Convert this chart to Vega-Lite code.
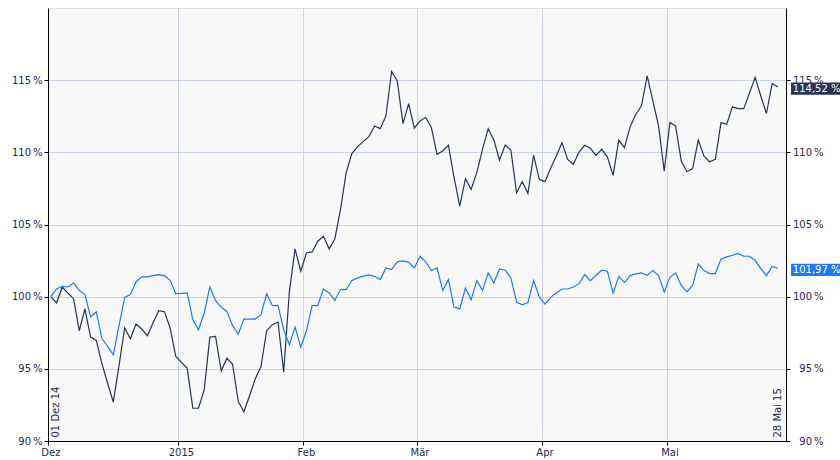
{
  "$schema": "https://vega.github.io/schema/vega-lite/v6.json",
  "width": 738,
  "height": 433,
  "autosize": {"type": "none"},
  "padding": {"left": 48, "top": 8, "right": 54, "bottom": 19},
  "background": "white",
  "config": {
    "view": {"fill": "#f8f8f8", "stroke": "#e2e2e2"},
    "font": "DejaVu Sans",
    "axis": {"labelFont": "DejaVu Sans", "labelFontSize": 10, "labelColor": "#1d2951", "domainColor": "#000000", "tickColor": "#000000", "gridColor": "#c9d4e6", "tickSize": 4}
  },
  "datasets": {
    "kurs": [
      {"date": "2014-12-01", "serie_1": 100.00, "serie_2": 100.00},
      {"date": "2014-12-02", "serie_1": 99.56, "serie_2": 100.53},
      {"date": "2014-12-03", "serie_1": 100.67, "serie_2": 100.72},
      {"date": "2014-12-04", "serie_1": 100.25, "serie_2": 100.67},
      {"date": "2014-12-05", "serie_1": 99.86, "serie_2": 100.95},
      {"date": "2014-12-08", "serie_1": 97.64, "serie_2": 100.44},
      {"date": "2014-12-09", "serie_1": 99.15, "serie_2": 100.14},
      {"date": "2014-12-10", "serie_1": 97.20, "serie_2": 98.59},
      {"date": "2014-12-11", "serie_1": 96.97, "serie_2": 98.94},
      {"date": "2014-12-12", "serie_1": 95.35, "serie_2": 97.10},
      {"date": "2014-12-15", "serie_1": 94.00, "serie_2": 96.55},
      {"date": "2014-12-16", "serie_1": 92.69, "serie_2": 95.97},
      {"date": "2014-12-17", "serie_1": 95.20, "serie_2": 97.98},
      {"date": "2014-12-18", "serie_1": 97.83, "serie_2": 99.95},
      {"date": "2014-12-19", "serie_1": 97.08, "serie_2": 100.14},
      {"date": "2014-12-22", "serie_1": 98.10, "serie_2": 101.02},
      {"date": "2014-12-23", "serie_1": 97.76, "serie_2": 101.37},
      {"date": "2014-12-24", "serie_1": 97.29, "serie_2": 101.37},
      {"date": "2014-12-25", "serie_1": 98.20, "serie_2": 101.46},
      {"date": "2014-12-26", "serie_1": 99.03, "serie_2": 101.53},
      {"date": "2014-12-29", "serie_1": 98.96, "serie_2": 101.46},
      {"date": "2014-12-30", "serie_1": 97.83, "serie_2": 101.13},
      {"date": "2014-12-31", "serie_1": 95.86, "serie_2": 100.21},
      {"date": "2015-01-01", "serie_1": 95.45, "serie_2": 100.23},
      {"date": "2015-01-02", "serie_1": 95.05, "serie_2": 100.26},
      {"date": "2015-01-05", "serie_1": 92.27, "serie_2": 98.40},
      {"date": "2015-01-06", "serie_1": 92.27, "serie_2": 97.71},
      {"date": "2015-01-07", "serie_1": 93.54, "serie_2": 98.87},
      {"date": "2015-01-08", "serie_1": 97.20, "serie_2": 100.67},
      {"date": "2015-01-09", "serie_1": 97.24, "serie_2": 99.72},
      {"date": "2015-01-12", "serie_1": 94.86, "serie_2": 99.26},
      {"date": "2015-01-13", "serie_1": 95.74, "serie_2": 98.98},
      {"date": "2015-01-14", "serie_1": 95.32, "serie_2": 97.99},
      {"date": "2015-01-15", "serie_1": 92.73, "serie_2": 97.41},
      {"date": "2015-01-16", "serie_1": 92.03, "serie_2": 98.45},
      {"date": "2015-01-19", "serie_1": 93.15, "serie_2": 98.45},
      {"date": "2015-01-20", "serie_1": 94.31, "serie_2": 98.45},
      {"date": "2015-01-21", "serie_1": 95.16, "serie_2": 98.75},
      {"date": "2015-01-22", "serie_1": 97.64, "serie_2": 100.21},
      {"date": "2015-01-23", "serie_1": 98.06, "serie_2": 99.38},
      {"date": "2015-01-26", "serie_1": 98.24, "serie_2": 99.40},
      {"date": "2015-01-27", "serie_1": 94.77, "serie_2": 97.71},
      {"date": "2015-01-28", "serie_1": 100.37, "serie_2": 96.67},
      {"date": "2015-01-29", "serie_1": 103.31, "serie_2": 97.90},
      {"date": "2015-01-30", "serie_1": 101.76, "serie_2": 96.51},
      {"date": "2015-02-02", "serie_1": 103.03, "serie_2": 97.62},
      {"date": "2015-02-03", "serie_1": 103.10, "serie_2": 99.38},
      {"date": "2015-02-04", "serie_1": 103.84, "serie_2": 99.38},
      {"date": "2015-02-05", "serie_1": 104.19, "serie_2": 100.53},
      {"date": "2015-02-06", "serie_1": 103.31, "serie_2": 100.26},
      {"date": "2015-02-09", "serie_1": 104.00, "serie_2": 99.74},
      {"date": "2015-02-10", "serie_1": 106.04, "serie_2": 100.49},
      {"date": "2015-02-11", "serie_1": 108.59, "serie_2": 100.49},
      {"date": "2015-02-12", "serie_1": 109.91, "serie_2": 101.13},
      {"date": "2015-02-13", "serie_1": 110.40, "serie_2": 101.30},
      {"date": "2015-02-16", "serie_1": 110.74, "serie_2": 101.41},
      {"date": "2015-02-17", "serie_1": 111.09, "serie_2": 101.51},
      {"date": "2015-02-18", "serie_1": 111.83, "serie_2": 101.41},
      {"date": "2015-02-19", "serie_1": 111.64, "serie_2": 101.18},
      {"date": "2015-02-20", "serie_1": 112.52, "serie_2": 101.99},
      {"date": "2015-02-23", "serie_1": 115.60, "serie_2": 101.88},
      {"date": "2015-02-24", "serie_1": 114.95, "serie_2": 102.41},
      {"date": "2015-02-25", "serie_1": 111.99, "serie_2": 102.48},
      {"date": "2015-02-26", "serie_1": 113.38, "serie_2": 102.38},
      {"date": "2015-02-27", "serie_1": 111.67, "serie_2": 101.99},
      {"date": "2015-03-02", "serie_1": 112.17, "serie_2": 102.80},
      {"date": "2015-03-03", "serie_1": 112.41, "serie_2": 102.41},
      {"date": "2015-03-04", "serie_1": 111.72, "serie_2": 101.81},
      {"date": "2015-03-05", "serie_1": 109.86, "serie_2": 101.99},
      {"date": "2015-03-06", "serie_1": 110.09, "serie_2": 100.42},
      {"date": "2015-03-09", "serie_1": 110.49, "serie_2": 101.18},
      {"date": "2015-03-10", "serie_1": 108.24, "serie_2": 99.28},
      {"date": "2015-03-11", "serie_1": 106.27, "serie_2": 99.15},
      {"date": "2015-03-12", "serie_1": 108.17, "serie_2": 100.60},
      {"date": "2015-03-13", "serie_1": 107.43, "serie_2": 99.79},
      {"date": "2015-03-16", "serie_1": 108.59, "serie_2": 101.11},
      {"date": "2015-03-17", "serie_1": 110.21, "serie_2": 100.44},
      {"date": "2015-03-18", "serie_1": 111.64, "serie_2": 101.65},
      {"date": "2015-03-19", "serie_1": 110.85, "serie_2": 100.95},
      {"date": "2015-03-20", "serie_1": 109.47, "serie_2": 101.92},
      {"date": "2015-03-23", "serie_1": 110.51, "serie_2": 101.83},
      {"date": "2015-03-24", "serie_1": 110.16, "serie_2": 101.30},
      {"date": "2015-03-25", "serie_1": 107.20, "serie_2": 99.63},
      {"date": "2015-03-26", "serie_1": 107.97, "serie_2": 99.44},
      {"date": "2015-03-27", "serie_1": 107.15, "serie_2": 99.60},
      {"date": "2015-03-30", "serie_1": 109.81, "serie_2": 101.11},
      {"date": "2015-03-31", "serie_1": 108.13, "serie_2": 99.98},
      {"date": "2015-04-01", "serie_1": 107.97, "serie_2": 99.49},
      {"date": "2015-04-02", "serie_1": 108.89, "serie_2": 99.95},
      {"date": "2015-04-03", "serie_1": 109.74, "serie_2": 100.26},
      {"date": "2015-04-06", "serie_1": 110.67, "serie_2": 100.53},
      {"date": "2015-04-07", "serie_1": 109.51, "serie_2": 100.53},
      {"date": "2015-04-08", "serie_1": 109.17, "serie_2": 100.67},
      {"date": "2015-04-09", "serie_1": 110.02, "serie_2": 100.90},
      {"date": "2015-04-10", "serie_1": 110.49, "serie_2": 101.53},
      {"date": "2015-04-13", "serie_1": 110.28, "serie_2": 101.11},
      {"date": "2015-04-14", "serie_1": 109.79, "serie_2": 101.48},
      {"date": "2015-04-15", "serie_1": 110.21, "serie_2": 101.83},
      {"date": "2015-04-16", "serie_1": 109.67, "serie_2": 101.76},
      {"date": "2015-04-17", "serie_1": 108.40, "serie_2": 100.24},
      {"date": "2015-04-20", "serie_1": 110.85, "serie_2": 101.41},
      {"date": "2015-04-21", "serie_1": 110.33, "serie_2": 100.99},
      {"date": "2015-04-22", "serie_1": 111.78, "serie_2": 101.46},
      {"date": "2015-04-23", "serie_1": 112.64, "serie_2": 101.58},
      {"date": "2015-04-24", "serie_1": 113.22, "serie_2": 101.65},
      {"date": "2015-04-27", "serie_1": 115.30, "serie_2": 101.46},
      {"date": "2015-04-28", "serie_1": 113.56, "serie_2": 101.83},
      {"date": "2015-04-29", "serie_1": 111.83, "serie_2": 101.46},
      {"date": "2015-04-30", "serie_1": 108.70, "serie_2": 100.33},
      {"date": "2015-05-01", "serie_1": 112.06, "serie_2": 101.34},
      {"date": "2015-05-04", "serie_1": 111.83, "serie_2": 101.65},
      {"date": "2015-05-05", "serie_1": 109.40, "serie_2": 100.78},
      {"date": "2015-05-06", "serie_1": 108.66, "serie_2": 100.33},
      {"date": "2015-05-07", "serie_1": 108.87, "serie_2": 100.78},
      {"date": "2015-05-08", "serie_1": 110.85, "serie_2": 102.27},
      {"date": "2015-05-11", "serie_1": 109.74, "serie_2": 101.81},
      {"date": "2015-05-12", "serie_1": 109.35, "serie_2": 101.60},
      {"date": "2015-05-13", "serie_1": 109.51, "serie_2": 101.60},
      {"date": "2015-05-14", "serie_1": 112.06, "serie_2": 102.62},
      {"date": "2015-05-15", "serie_1": 111.94, "serie_2": 102.76},
      {"date": "2015-05-18", "serie_1": 113.15, "serie_2": 102.87},
      {"date": "2015-05-19", "serie_1": 113.03, "serie_2": 102.99},
      {"date": "2015-05-20", "serie_1": 113.03, "serie_2": 102.80},
      {"date": "2015-05-21", "serie_1": 114.10, "serie_2": 102.80},
      {"date": "2015-05-22", "serie_1": 115.19, "serie_2": 102.52},
      {"date": "2015-05-25", "serie_1": 113.90, "serie_2": 101.95},
      {"date": "2015-05-26", "serie_1": 112.69, "serie_2": 101.46},
      {"date": "2015-05-27", "serie_1": 114.77, "serie_2": 102.10},
      {"date": "2015-05-28", "serie_1": 114.52, "serie_2": 101.97}
    ],
    "ende": [
      {"date": "2015-05-28", "serie": "serie_1", "wert": 114.52, "label": "114,52 %"},
      {"date": "2015-05-28", "serie": "serie_2", "wert": 101.97, "label": "101,97 %"}
    ]
  },
  "layer": [
    {
      "data": {"name": "kurs"},
      "transform": [{"fold": ["serie_1", "serie_2"], "as": ["serie", "wert"]}],
      "mark": {"type": "line", "strokeWidth": 1.2, "interpolate": "linear"},
      "encoding": {
        "x": {
          "field": "date", "type": "ordinal", "bandPosition": 0.5,
          "scale": {"type": "band", "paddingInner": 0, "paddingOuter": 0.47, "align": 0},
          "axis": {
            "orient": "bottom", "title": null, "bandPosition": 0, "labelAngle": 0,
            "values": ["2014-12-01", "2015-01-01", "2015-02-02", "2015-03-02", "2015-04-01", "2015-05-01"],
            "labelExpr": "substring(datum.value, 5, 7) == '01' ? substring(datum.value, 0, 4) : ['Jan','Feb','Mär','Apr','Mai','Jun','Jul','Aug','Sep','Okt','Nov','Dez'][toNumber(substring(datum.value, 5, 7)) - 1]",
            "grid": true, "labelPadding": 2, "labelOverlap": false
          }
        },
        "y": {
          "field": "wert", "type": "quantitative",
          "scale": {"domain": [90, 120], "nice": false, "zero": false},
          "axis": {
            "orient": "left", "title": null, "values": [90, 95, 100, 105, 110, 115],
            "labelExpr": "datum.value + '\u2009%'", "grid": true, "labelPadding": 2, "labelFlush": false
          }
        },
        "color": {
          "field": "serie", "type": "nominal",
          "scale": {"domain": ["serie_1", "serie_2"], "range": ["#263457", "#1e7af2"]},
          "legend": null
        }
      }
    },
    {
      "data": {"name": "ende"},
      "mark": {"type": "point", "shape": "M-1,-0.25L1,-0.25L1,0.25L-1,0.25Z", "size": 2401, "filled": true, "opacity": 1, "strokeWidth": 0, "xOffset": 37.7, "yOffset": 1.6},
      "encoding": {
        "x": {
          "field": "date", "type": "ordinal", "bandPosition": 0.5,
          "scale": {"type": "band", "paddingInner": 0, "paddingOuter": 0.47, "align": 0},
          "axis": {
            "orient": "bottom", "title": null, "bandPosition": 0, "labelAngle": 0,
            "values": ["2014-12-01", "2015-01-01", "2015-02-02", "2015-03-02", "2015-04-01", "2015-05-01"],
            "labelExpr": "substring(datum.value, 5, 7) == '01' ? substring(datum.value, 0, 4) : ['Jan','Feb','Mär','Apr','Mai','Jun','Jul','Aug','Sep','Okt','Nov','Dez'][toNumber(substring(datum.value, 5, 7)) - 1]",
            "grid": true, "labelPadding": 2, "labelOverlap": false
          }
        },
        "y": {
          "field": "wert", "type": "quantitative",
          "scale": {"domain": [90, 120], "nice": false, "zero": false},
          "axis": {
            "orient": "right", "title": null, "values": [90, 95, 100, 105, 110, 115],
            "labelExpr": "datum.value + '\u2009%'", "grid": false, "labelAlign": "right", "labelPadding": 33, "labelFlush": false
          }
        },
        "color": {"field": "serie", "type": "nominal", "scale": {"domain": ["serie_1", "serie_2"], "range": ["#263457", "#1e7af2"]}, "legend": null}
      }
    },
    {
      "data": {"name": "ende"},
      "mark": {"type": "text", "align": "left", "baseline": "middle", "color": "#ffffff", "fontSize": 10, "font": "DejaVu Sans", "xOffset": 15, "yOffset": 1.6},
      "encoding": {
        "x": {
          "field": "date", "type": "ordinal", "bandPosition": 0.5,
          "scale": {"type": "band", "paddingInner": 0, "paddingOuter": 0.47, "align": 0},
          "axis": {
            "orient": "bottom", "title": null, "bandPosition": 0, "labelAngle": 0,
            "values": ["2014-12-01", "2015-01-01", "2015-02-02", "2015-03-02", "2015-04-01", "2015-05-01"],
            "labelExpr": "substring(datum.value, 5, 7) == '01' ? substring(datum.value, 0, 4) : ['Jan','Feb','Mär','Apr','Mai','Jun','Jul','Aug','Sep','Okt','Nov','Dez'][toNumber(substring(datum.value, 5, 7)) - 1]",
            "grid": true, "labelPadding": 2, "labelOverlap": false
          }
        },
        "y": {"field": "wert", "type": "quantitative", "scale": {"domain": [90, 120], "nice": false, "zero": false}, "axis": null},
        "text": {"field": "label", "type": "nominal"}
      }
    },
    {
      "data": {"values": [{"date": "2014-12-01", "label": "01 Dez 14"}]},
      "mark": {"type": "text", "angle": 270, "align": "left", "baseline": "top", "color": "#1d2951", "fontSize": 10, "font": "DejaVu Sans", "yOffset": -3.5},
      "encoding": {
        "x": {
          "field": "date", "type": "ordinal", "bandPosition": 0.5,
          "scale": {"type": "band", "paddingInner": 0, "paddingOuter": 0.47, "align": 0},
          "axis": {
            "orient": "bottom", "title": null, "bandPosition": 0, "labelAngle": 0,
            "values": ["2014-12-01", "2015-01-01", "2015-02-02", "2015-03-02", "2015-04-01", "2015-05-01"],
            "labelExpr": "substring(datum.value, 5, 7) == '01' ? substring(datum.value, 0, 4) : ['Jan','Feb','Mär','Apr','Mai','Jun','Jul','Aug','Sep','Okt','Nov','Dez'][toNumber(substring(datum.value, 5, 7)) - 1]",
            "grid": true, "labelPadding": 2, "labelOverlap": false
          }
        },
        "y": {"datum": 90, "type": "quantitative", "scale": {"domain": [90, 120], "nice": false, "zero": false}, "axis": null},
        "text": {"field": "label", "type": "nominal"}
      }
    },
    {
      "data": {"values": [{"date": "2015-05-28", "label": "28 Mai 15"}]},
      "mark": {"type": "text", "angle": 270, "align": "left", "baseline": "middle", "color": "#1d2951", "fontSize": 10, "font": "DejaVu Sans", "yOffset": -3.5},
      "encoding": {
        "x": {
          "field": "date", "type": "ordinal", "bandPosition": 0.5,
          "scale": {"type": "band", "paddingInner": 0, "paddingOuter": 0.47, "align": 0},
          "axis": {
            "orient": "bottom", "title": null, "bandPosition": 0, "labelAngle": 0,
            "values": ["2014-12-01", "2015-01-01", "2015-02-02", "2015-03-02", "2015-04-01", "2015-05-01"],
            "labelExpr": "substring(datum.value, 5, 7) == '01' ? substring(datum.value, 0, 4) : ['Jan','Feb','Mär','Apr','Mai','Jun','Jul','Aug','Sep','Okt','Nov','Dez'][toNumber(substring(datum.value, 5, 7)) - 1]",
            "grid": true, "labelPadding": 2, "labelOverlap": false
          }
        },
        "y": {"datum": 90, "type": "quantitative", "scale": {"domain": [90, 120], "nice": false, "zero": false}, "axis": null},
        "text": {"field": "label", "type": "nominal"}
      }
    }
  ],
  "resolve": {"scale": {"y": "shared", "x": "shared", "color": "shared"}, "axis": {"y": "independent"}}
}
